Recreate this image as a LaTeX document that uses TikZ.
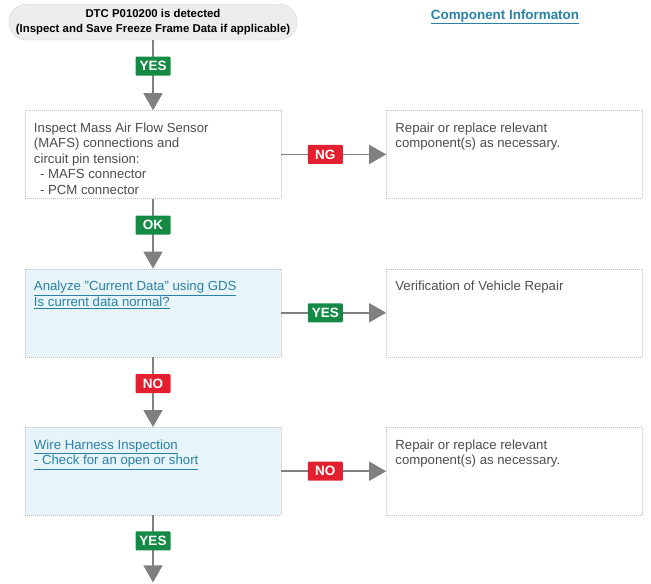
\documentclass[tikz,border=0pt]{standalone}
\usepackage{fontspec}
\setmainfont{Liberation Sans}
\usepackage{tikz}
\usetikzlibrary{positioning,shapes.misc,arrows.meta}
\definecolor{txtgray}{HTML}{4D4D4D}
\definecolor{linkblue}{HTML}{2A80A6}
\definecolor{okgreen}{HTML}{148A45}
\definecolor{ngred}{HTML}{E2202F}
\definecolor{arrgray}{HTML}{808080}
\definecolor{boxline}{HTML}{C4BCC4}
\definecolor{qfill}{HTML}{E7F4FA}
\newcommand{\boxtext}[1]{\parbox[c][70pt][t]{238pt}{\fontsize{13.2}{15.5}\selectfont\vspace*{3.5pt}#1}}

\begin{document}
\begin{tikzpicture}[x=1pt, y=1pt,
    startnode/.style={rounded rectangle, draw=boxline, dash pattern=on 1pt off 1pt, fill=black!7,
      minimum width=295pt, minimum height=36pt, align=center, text=black,
      font=\fontsize{11.4}{14.5}\selectfont\bfseries},
    stepnode/.style={rectangle, draw=boxline, dash pattern=on 1pt off 1pt, fill=white,
      inner xsep=9pt, inner ysep=9pt, text=txtgray},
    qnode/.style={stepnode, fill=qfill, text=linkblue},
    yeslbl/.style={fill=okgreen, text=white, font=\fontsize{13.5}{13.5}\selectfont\bfseries,
      minimum width=35pt, minimum height=19pt, inner sep=0pt, rounded corners=1pt},
    nglbl/.style={yeslbl, fill=ngred},
    flow/.style={draw=arrgray, line width=1.6pt, -{Triangle[length=17pt,width=19pt]}}]

  \useasboundingbox (0,0) rectangle (651,-584);

  % Define nodes
  \node[startnode] (start) at (153,-22) {DTC P010200 is detected\\(Inspect and Save Freeze Frame Data if applicable)};

  \node[font=\fontsize{13.4}{15}\selectfont\bfseries, text=linkblue] (info) at (505,-17) {\underline{Component Informaton}};

  \node[stepnode, below=70pt of start] (box1) {\boxtext{Inspect Mass Air Flow Sensor\\(MAFS) connections and\\circuit pin tension:\\\hspace*{6pt}- MAFS connector\\\hspace*{6pt}- PCM connector}};
  \node[stepnode, right=105pt of box1] (rbox1) {\boxtext{Repair or replace relevant\\component(s) as necessary.}};

  \node[qnode, below=70pt of box1] (box2) {\boxtext{\underline{Analyze \symbol{34}Current Data\symbol{34} using GDS}\\\underline{Is current data normal?}}};
  \node[stepnode, right=105pt of box2] (rbox2) {\boxtext{Verification of Vehicle Repair}};

  \node[qnode, below=70pt of box2] (box3) {\boxtext{\underline{Wire Harness Inspection}\\\underline{- Check for an open or short}}};
  \node[stepnode, right=105pt of box3] (rbox3) {\boxtext{Repair or replace relevant\\component(s) as necessary.}};

  \coordinate[below=67pt of box3] (end);

  % Connectors
  \draw[flow] (start) -- node[yeslbl, pos=0.37] (l1) {YES} (box1);
  \draw[flow] (box1) -- node[nglbl, pos=0.42] (l2) {NG} (rbox1);
  \draw[flow] (box1) -- node[yeslbl, pos=0.38] (l3) {OK} (box2);
  \draw[flow] (box2) -- node[yeslbl, pos=0.42] (l4) {YES} (rbox2);
  \draw[flow] (box2) -- node[nglbl, pos=0.38] (l5) {NO} (box3);
  \draw[flow] (box3) -- node[nglbl, pos=0.42] (l6) {NO} (rbox3);
  \draw[flow] (box3) -- node[yeslbl, pos=0.38] (l7) {YES} (end);

\end{tikzpicture}
\end{document}
